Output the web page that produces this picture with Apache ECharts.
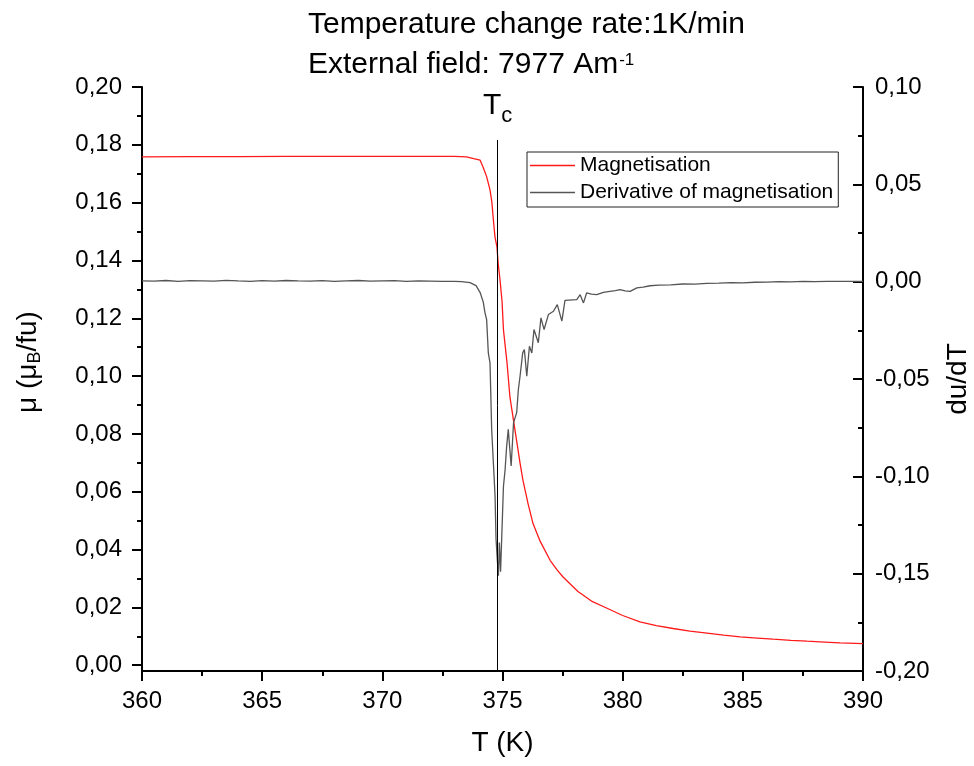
<!DOCTYPE html>
<html>
<head>
<meta charset="utf-8">
<script src="https://cdn.jsdelivr.net/npm/echarts@6/dist/echarts.min.js"></script>
<style>html,body{margin:0;padding:0;background:#fff}#c{width:974px;height:766px}</style>
</head>
<body>
<div id="c"></div>
<script>
// ---- data ----
const TC = 374.8;
const xTicks = [360, 365, 370, 375, 380, 385, 390];
const leftTicks = [0, 0.02, 0.04, 0.06, 0.08, 0.10, 0.12, 0.14, 0.16, 0.18, 0.20];
const leftMinorTicks = [0.01, 0.03, 0.05, 0.07, 0.09, 0.11, 0.13, 0.15, 0.17, 0.19];
const rightTicks = [-0.20, -0.15, -0.10, -0.05, 0, 0.05, 0.10];

const magT = [360, 362, 364, 366, 368, 370, 372, 373, 373.5, 373.8, 374.07, 374.19, 374.34, 374.48, 374.56, 374.62, 374.69, 374.77, 374.82, 374.9, 374.98, 375.04, 375.19, 375.31, 375.52, 375.73, 375.85, 376.06, 376.27, 376.56, 376.98, 377.27, 377.52, 378.14, 378.7, 379.35, 380.0, 380.72, 381.4, 382.1, 382.8, 383.51, 384.2, 384.89, 385.6, 386.26, 387.0, 387.67, 388.4, 389.05, 390];
const magV = [0.1758, 0.1759, 0.1759, 0.1760, 0.1760, 0.1760, 0.1760, 0.1760, 0.1758, 0.1752, 0.1747, 0.1723, 0.1690, 0.1644, 0.1600, 0.1540, 0.1480, 0.1446, 0.1390, 0.1330, 0.1260, 0.1160, 0.1045, 0.0927, 0.0813, 0.0699, 0.0640, 0.0560, 0.0490, 0.0430, 0.0363, 0.0330, 0.0305, 0.0255, 0.0222, 0.0197, 0.0172, 0.0150, 0.0137, 0.0127, 0.0118, 0.0111, 0.0104, 0.0098, 0.0094, 0.0090, 0.0086, 0.0083, 0.0080, 0.0077, 0.0075];

const derT = [360, 360.5, 361, 361.5, 362, 362.5, 363, 363.5, 364, 364.5, 365, 365.5, 366, 366.5, 367, 367.5, 368, 368.5, 369, 369.5, 370, 370.5, 371, 371.5, 372, 372.5, 373,
  373.3, 373.65, 373.9, 374.07, 374.2, 374.27, 374.34, 374.41, 374.48, 374.55, 374.62, 374.69, 374.73, 374.79, 374.83, 374.87, 374.92,
  375.04, 375.11, 375.17, 375.24, 375.36, 375.46, 375.59, 375.66, 375.73, 375.84, 375.91, 376.01, 376.12, 376.22, 376.31, 376.49, 376.6, 376.73, 376.91,
  377.12, 377.28, 377.47, 377.6, 378.09, 378.23, 378.37, 378.5, 378.7, 378.92, 379.2, 379.47, 379.7, 379.89, 380.1, 380.31, 380.59, 380.85, 381.14,
  381.5, 382, 382.5, 383, 383.5, 384, 384.5, 385, 385.5, 386, 386.5, 387, 387.5, 388, 388.5, 389, 389.5, 390];
const derV = [0.0004, 0.0003, 0.0006, 0.0002, 0.0005, 0.0004, 0.0003, 0.0007, 0.0004, 0.0002, 0.0005, 0.0003, 0.0006, 0.0004, 0.0003, 0.0005, 0.0002, 0.0004, 0.0006, 0.0003, 0.0004, 0.0005, 0.0002, 0.0004, 0.0003, 0.0001, 0.0002,
  0.0000, -0.0005, -0.0020, -0.0056, -0.0105, -0.0159, -0.0195, -0.0366, -0.0417, -0.0759, -0.0930, -0.1100, -0.1320, -0.1440, -0.1510, -0.1340, -0.1490,
  -0.1050, -0.0964, -0.0850, -0.0759, -0.0947, -0.0724, -0.0673, -0.0554, -0.0486, -0.0366, -0.0349, -0.0486, -0.0332, -0.0366, -0.0246, -0.0314, -0.0186, -0.0246, -0.0169,
  -0.0152, -0.0118, -0.0203, -0.0096, -0.0092, -0.0067, -0.0109, -0.0058, -0.0064, -0.0067, -0.0055, -0.0050, -0.0046, -0.0041, -0.0047, -0.0050, -0.0032, -0.0028, -0.0021,
  -0.0018, -0.0016, -0.0012, -0.0013, -0.0009, -0.0008, -0.0005, -0.0006, -0.0003, -0.0002, 0.0000, -0.0001, 0.0001, 0.0000, 0.0002, 0.0001, 0.0002, 0.0002];

const FONT = "'Liberation Sans', Arial, sans-serif";
const comma = v => (Math.round(v * 100) / 100).toFixed(2).replace('.', ',').replace('-0,00', '0,00');

const chart = echarts.init(document.getElementById('c'), null, {renderer: 'canvas'});
chart.setOption({
  animation: false,
  backgroundColor: '#fff',
  textStyle: {fontFamily: FONT, color: '#000'},
  title: {
    text: 'Temperature change rate:1K/min\nExternal field: 7977 Am{sup|-1}',
    left: 308, top: 5, padding: 0,
    textStyle: {
      fontFamily: FONT, fontSize: 30, fontWeight: 'normal', color: '#000', lineHeight: 40,
      rich: {sup: {fontFamily: FONT, fontSize: 17, color: '#000', padding: [0, 0, 10, 1], lineHeight: 20}}
    }
  },
  legend: {
    orient: 'vertical', left: 527, top: 152,
    padding: [3, 5, 4, 3], itemGap: 6,
    itemWidth: 45, itemHeight: 1.5, icon: 'rect',
    borderColor: '#222', borderWidth: 1,
    textStyle: {fontFamily: FONT, fontSize: 21, color: '#000', lineHeight: 21},
    data: ['Magnetisation', 'Derivative of magnetisation']
  },
  grid: {left: 142, right: 111, top: 87, bottom: 95, containLabel: false, outerBoundsMode: 'none'},
  xAxis: {
    type: 'value', min: 360, max: 390, interval: 5,
    name: 'T (K)', nameLocation: 'middle', nameGap: 58,
    nameTextStyle: {fontFamily: FONT, fontSize: 28, color: '#000'},
    axisLine: {show: true, onZero: false, lineStyle: {color: '#000', width: 2}},
    axisTick: {show: true, length: 10, lineStyle: {color: '#000', width: 2}},
    minorTick: {show: true, splitNumber: 2, length: 5, lineStyle: {color: '#000', width: 2}},
    axisLabel: {fontFamily: FONT, fontSize: 24, color: '#000', margin: 18, customValues: xTicks},
    splitLine: {show: false}
  },
  yAxis: [
    {
      type: 'value', position: 'left', min: -0.002, max: 0.2,
      name: 'μ (μ{sub|B}/fu)', nameLocation: 'middle', nameGap: 100, nameRotate: 90,
      nameTextStyle: {fontFamily: FONT, fontSize: 28, color: '#000', padding: [0, 0, 0, 34],
        rich: {sub: {fontFamily: FONT, fontSize: 18, color: '#000', padding: [14, 0, 0, 0], lineHeight: 28}}},
      axisLine: {show: true, onZero: false, lineStyle: {color: '#000', width: 2}},
      axisTick: {show: true, length: 10, customValues: leftTicks, lineStyle: {color: '#000', width: 2}},
      axisLabel: {fontFamily: FONT, fontSize: 24, color: '#000', margin: 20, customValues: leftTicks, formatter: comma},
      splitLine: {show: false}
    },
    {
      type: 'value', position: 'left', min: -0.002, max: 0.2,
      axisLine: {show: false},
      axisTick: {show: true, length: 5, customValues: leftMinorTicks, lineStyle: {color: '#000', width: 2}},
      axisLabel: {show: false},
      splitLine: {show: false}
    },
    {
      type: 'value', position: 'right', min: -0.2, max: 0.1, interval: 0.05,
      name: 'du/dT', nameLocation: 'middle', nameGap: 81, nameRotate: 90,
      nameTextStyle: {fontFamily: FONT, fontSize: 28, color: '#000'},
      axisLine: {show: true, onZero: false, lineStyle: {color: '#000', width: 2}},
      axisTick: {show: true, inside: true, length: 10, lineStyle: {color: '#000', width: 2}},
      minorTick: {show: true, splitNumber: 2, length: 5, lineStyle: {color: '#000', width: 2}},
      axisLabel: {fontFamily: FONT, fontSize: 24, color: '#000', margin: 12, customValues: rightTicks, formatter: comma},
      splitLine: {show: false}
    }
  ],
  series: [
    {
      name: 'Magnetisation', type: 'line', yAxisIndex: 0, symbol: 'none', smooth: false,
      lineStyle: {color: '#ff1a1a', width: 1.3}, itemStyle: {color: '#ff1a1a'},
      data: magT.map((t, i) => [t, magV[i]]),
      markLine: {
        silent: true, symbol: ['none', 'none'],
        lineStyle: {color: '#000', width: 1, type: 'solid'},
        label: {
          show: true, position: 'end', distance: 17, formatter: '{t|T}{s|c}',
          rich: {
            t: {fontFamily: FONT, fontSize: 30, color: '#000', lineHeight: 34},
            s: {fontFamily: FONT, fontSize: 22, color: '#000', padding: [20, 0, 0, 0], lineHeight: 34}
          }
        },
        data: [[{coord: [TC, -0.002]}, {coord: [TC, 0.1817]}]]
      }
    },
    {
      name: 'Derivative of magnetisation', type: 'line', yAxisIndex: 2, symbol: 'none', smooth: false,
      lineStyle: {color: '#555555', width: 1.3}, itemStyle: {color: '#555555'},
      data: derT.map((t, i) => [t, derV[i]])
    }
  ]
});
</script>
</body>
</html>
